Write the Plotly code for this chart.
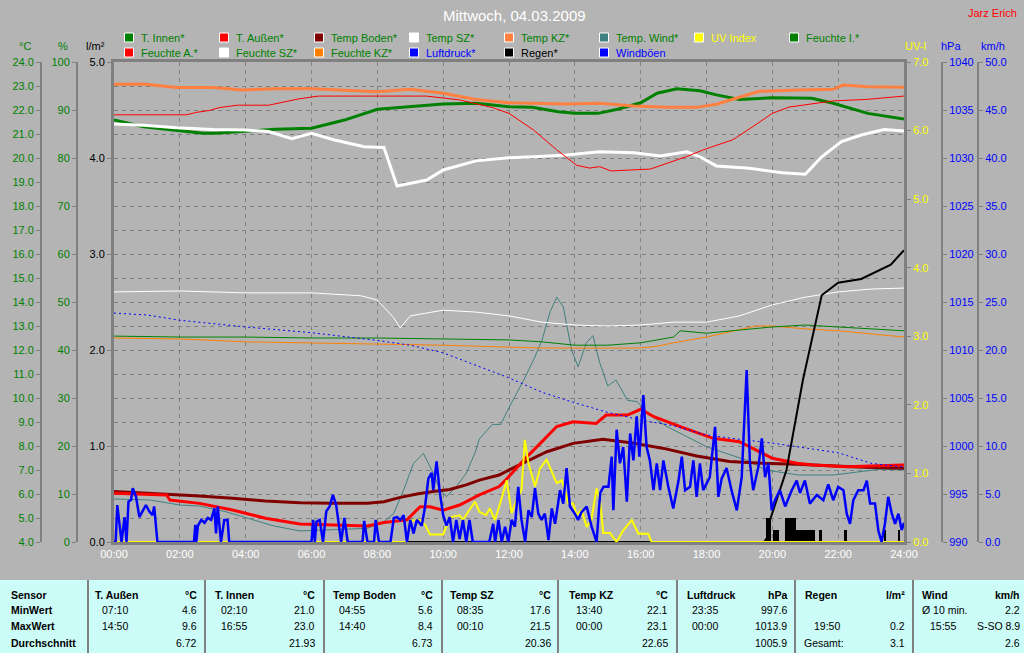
import plotly.graph_objects as go

# ---------------- data (hours since midnight, values in axis units) ----------------
T_INNEN_H = [0, 0.9, 2.0, 2.7, 3.1, 4.0, 4.9, 6.0, 7.0, 8.0, 9.0, 10.0, 11.0, 12.0, 12.7, 13.5, 14.0, 14.7, 15.3, 16.0, 16.5, 17.1, 17.8, 18.3, 19.0, 20.0, 21.2, 21.85, 22.9, 24.0]
T_INNEN = [21.58, 21.30, 21.14, 21.03, 21.03, 21.10, 21.20, 21.24, 21.58, 22.03, 22.14, 22.25, 22.28, 22.14, 22.11, 21.93, 21.86, 21.86, 22.03, 22.30, 22.70, 22.88, 22.80, 22.63, 22.44, 22.51, 22.49, 22.28, 21.86, 21.62]

TEMP_KZ_H = [0, 0.9, 1.9, 3.0, 3.9, 4.9, 6.0, 7.0, 8.0, 9.0, 10.0, 11.0, 12.0, 12.7, 13.75, 14.75, 15.8, 16.8, 17.7, 18.3, 19.0, 19.6, 20.8, 21.85, 22.15, 22.9, 24.0]
TEMP_KZ = [23.07, 23.08, 22.94, 22.94, 22.83, 22.89, 22.89, 22.83, 22.76, 22.86, 22.70, 22.44, 22.30, 22.28, 22.25, 22.28, 22.17, 22.11, 22.11, 22.24, 22.53, 22.78, 22.83, 22.86, 23.04, 22.97, 22.95]

TEMP_SZ_H = [0, 0.9, 1.9, 3.0, 4.0, 4.7, 5.4, 6.0, 6.7, 7.6, 8.2, 8.6, 9.5, 10.0, 11.0, 12.0, 12.75, 13.75, 14.75, 15.8, 16.6, 17.4, 17.8, 18.3, 19.3, 20.3, 21.0, 21.5, 22.1, 22.7, 23.4, 24.0]
TEMP_SZ = [21.42, 21.36, 21.26, 21.19, 21.17, 21.10, 20.80, 21.03, 20.75, 20.47, 20.44, 18.83, 19.08, 19.50, 19.88, 20.01, 20.05, 20.13, 20.26, 20.22, 20.08, 20.26, 20.05, 19.67, 19.57, 19.39, 19.32, 20.05, 20.68, 20.96, 21.19, 21.12]

T_AUSSEN_H = [0, 1.6, 1.7, 2.6, 3.6, 4.6, 5.65, 6.65, 7.7, 8.2, 8.9, 9.3, 9.6, 10.0, 10.5, 11.1, 11.7, 11.9, 12.45, 12.95, 13.45, 13.95, 14.65, 14.95, 15.6, 16.0, 16.4, 17.2, 18.2, 19.0, 19.5, 20.0, 20.75, 21.25, 22.25, 23.25, 24.0]
T_AUSSEN = [6.03, 5.96, 5.75, 5.61, 5.33, 4.99, 4.75, 4.71, 4.67, 4.81, 4.92, 5.47, 5.47, 5.33, 5.54, 5.96, 6.31, 6.58, 7.42, 8.11, 8.81, 9.01, 8.94, 9.29, 9.29, 9.53, 9.22, 8.81, 8.32, 8.18, 7.83, 7.49, 7.28, 7.21, 7.14, 7.17, 7.21]

BODEN_H = [0, 1.6, 2.6, 3.6, 4.6, 5.65, 6.65, 7.7, 8.2, 8.7, 9.2, 9.7, 10.2, 10.7, 11.1, 11.7, 12.1, 13.15, 13.95, 14.85, 15.7, 16.7, 17.7, 18.7, 19.7, 20.75, 21.75, 22.75, 24.0]
BODEN = [6.10, 6.00, 5.92, 5.82, 5.71, 5.64, 5.61, 5.61, 5.68, 5.86, 6.00, 6.10, 6.19, 6.38, 6.58, 6.79, 7.07, 7.76, 8.11, 8.28, 8.14, 7.90, 7.58, 7.35, 7.28, 7.24, 7.17, 7.11, 7.07]

WIND_T_H = [0, 1.1, 2.0, 2.6, 3.4, 4.1, 4.85, 5.65, 6.65, 7.7, 8.2, 8.5, 8.8, 9.1, 9.4, 9.7, 9.9, 10.1, 10.4, 10.7, 11.0, 11.1, 11.5, 11.75, 12.0, 12.45, 12.75, 13.0, 13.25, 13.45, 13.65, 13.9, 14.1, 14.35, 14.55, 14.75, 15.0, 15.25, 15.6, 15.9, 16.2, 16.8, 17.4, 18.0, 18.6, 19.2, 19.8, 20.8, 21.85, 22.25, 23.25, 24.0]
WIND_T = [5.79, 5.75, 5.54, 5.50, 5.26, 4.99, 4.67, 4.46, 4.50, 4.57, 4.85, 5.19, 6.17, 7.28, 7.69, 6.86, 6.17, 5.89, 6.31, 6.86, 7.83, 8.30, 8.90, 8.90, 9.60, 10.75, 11.6, 12.4, 13.6, 14.2, 13.8, 12.0, 11.3, 12.3, 12.6, 11.5, 10.5, 10.75, 9.90, 9.85, 9.36, 8.81, 8.39, 7.97, 7.69, 7.42, 7.00, 6.79, 6.79, 6.86, 7.03, 7.00]

FEUCHTE_A_H = [0, 2.2, 2.5, 2.9, 3.2, 3.75, 4.7, 5.2, 5.6, 6.2, 9.5, 10.5, 11.5, 12.0, 12.75, 13.45, 14.05, 14.45, 14.75, 15.1, 15.8, 16.3, 16.8, 17.4, 17.9, 18.8, 19.4, 20.0, 20.5, 21.25, 21.85, 22.85, 24.0]
FEUCHTE_A = [89.0, 89.0, 89.5, 89.9, 90.5, 91.0, 91.0, 91.8, 92.3, 92.9, 92.9, 92.1, 90.5, 89.3, 85.8, 81.7, 78.5, 77.9, 78.2, 77.3, 77.5, 77.7, 78.9, 80.3, 81.7, 83.8, 86.5, 89.3, 90.6, 91.4, 91.9, 92.2, 92.9]

FEUCHTE_SZ_H = [0, 2, 4, 6, 7.5, 8.0, 8.5, 8.7, 9.0, 10, 11, 12, 13, 14, 15, 16, 17, 18, 19, 20, 21, 22, 23, 24]
FEUCHTE_SZ = [52.1, 52.3, 51.9, 51.9, 51.3, 50.4, 46.7, 44.6, 47.1, 48.3, 47.9, 47.1, 45.8, 45.2, 45.0, 45.2, 45.8, 45.8, 47.1, 49.4, 51.0, 52.1, 52.7, 52.9]

FEUCHTE_I_H = [0, 2, 4, 6, 8, 10, 12, 13, 14, 15, 16, 17, 17.2, 18, 19, 20, 21, 22, 23, 24]
FEUCHTE_I = [42.9, 42.7, 42.7, 42.5, 42.5, 42.3, 42.1, 41.7, 41.0, 41.0, 41.5, 42.7, 44.0, 43.5, 44.2, 44.8, 45.2, 44.8, 44.4, 44.0]

FEUCHTE_KZ_H = [0, 2, 4, 6, 8, 10, 12, 13, 14, 15, 16, 16.5, 17, 18, 19, 19.5, 20, 21, 22, 23, 24]
FEUCHTE_KZ = [42.5, 42.3, 41.7, 41.5, 41.3, 41.0, 40.6, 40.4, 40.4, 40.4, 40.4, 40.8, 41.5, 42.7, 44.2, 45.0, 45.0, 44.4, 44.0, 43.3, 42.7]

LUFTDRUCK_H = [0, 1, 2, 4, 6, 8, 9, 10, 11, 12, 13, 14, 15, 16, 17, 18, 19, 20, 21, 22, 23, 24]
LUFTDRUCK = [1013.85, 1013.65, 1013.1, 1012.4, 1011.8, 1011.0, 1010.5, 1009.7, 1008.4, 1007.1, 1005.6, 1004.5, 1003.5, 1002.7, 1002.1, 1001.15, 1000.7, 1000.3, 999.8, 999.3, 998.2, 997.8]

REGEN_H = [0, 19.75, 19.85, 19.93, 20.43, 20.93, 21.5, 22.0, 22.7, 23.2, 23.6, 24.0]
REGEN = [0, 0, 0.05, 0.23, 0.75, 1.69, 2.57, 2.70, 2.74, 2.82, 2.89, 3.04]

RAIN_BAR_H = [19.85, 19.93, 20.06, 20.15, 20.42, 20.5, 20.58, 20.67, 20.75, 20.83, 20.92, 21.0, 21.08, 21.17, 21.25, 21.46, 22.23, 23.42, 23.85]
RAIN_BAR = [0.25, 0.25, 0.12, 0.12, 0.25, 0.25, 0.25, 0.25, 0.12, 0.12, 0.12, 0.12, 0.12, 0.12, 0.12, 0.12, 0.12, 0.12, 0.12]

UV_H = [0, 8.89, 8.99, 9.3, 9.45, 9.6, 10.0, 10.2, 10.5, 10.6, 10.8, 10.97, 11.1, 11.3, 11.42, 11.57, 11.73, 11.93, 12.08, 12.23, 12.38, 12.48, 12.59, 12.79, 12.94, 13.14, 13.45, 13.6, 13.7, 13.8, 13.95, 14.06, 14.2, 14.36, 14.5, 14.66, 14.78, 14.86, 15.07, 15.27, 15.47, 15.73, 15.93, 16.23, 16.33, 24.0]
UV = [0, 0, 0.31, 0.32, 0.25, 0.11, 0.11, 0.36, 0.39, 0.32, 0.47, 0.59, 0.44, 0.39, 0.49, 0.32, 0.56, 0.90, 0.42, 0.61, 0.76, 1.49, 1.15, 0.81, 1.07, 1.20, 0.86, 0.90, 0.76, 0.56, 0.56, 0.39, 0.47, 0.22, 0.32, 0.78, 0.56, 0.13, 0.13, 0.0, 0.17, 0.32, 0.12, 0.12, 0.0, 0.0]

BOEEN_H = [0.0, 0.05, 0.1, 0.15, 0.23, 0.32, 0.38, 0.44, 0.52, 0.57, 0.67, 0.77, 0.87, 0.97, 1.07, 1.17, 1.22, 1.32,
           2.43, 2.47, 2.5, 2.55, 2.65, 2.75, 2.85, 2.95, 3.05, 3.1, 3.15, 3.25, 3.35, 3.45, 3.5,
           6.0, 6.05, 6.1, 6.15, 6.25, 6.35, 6.45, 6.55, 6.65, 6.75, 6.85, 6.9, 7.0, 7.1, 7.55, 7.6, 7.7, 7.9, 7.95, 8.05,
           8.4, 8.5, 8.6, 8.7, 8.8, 8.9, 9.0, 9.1, 9.2, 9.35, 9.45, 9.55, 9.65, 9.7, 9.8, 9.9, 10.0, 10.1, 10.2, 10.3,
           10.4, 10.5, 10.6, 10.7, 10.8, 10.9, 11.4, 11.52, 11.58, 11.68, 11.78, 11.88, 11.98, 12.08, 12.18, 12.28, 12.38,
           12.49, 12.59, 12.69, 12.79, 12.89, 12.99, 13.09, 13.2, 13.3, 13.4, 13.55, 13.65, 13.75, 13.85, 14.0, 14.1,
           14.2, 14.36, 14.51, 14.66, 14.77, 14.87, 15.02, 15.12, 15.17, 15.27, 15.37, 15.47, 15.58, 15.68, 15.78, 15.88,
           15.96, 16.08, 16.18, 16.28, 16.39, 16.49, 16.59, 16.69, 16.84, 16.99, 17.15, 17.25, 17.35, 17.5, 17.6, 17.7,
           17.8, 17.9, 18.1, 18.26, 18.36, 18.46, 18.61, 18.76, 18.92, 19.07, 19.17, 19.22, 19.32, 19.42, 19.58, 19.68,
           19.78, 19.88, 19.98, 20.08, 20.23, 20.39, 20.59, 20.74, 20.84, 20.99, 21.14, 21.35, 21.55, 21.7, 21.85, 22.0,
           22.16, 22.26, 22.36, 22.46, 22.61, 22.77, 22.87, 22.97, 23.12, 23.22, 23.32, 23.42, 23.52, 23.63, 23.73,
           23.83, 23.93, 24.0]
BOEEN = [0, 0, 3.85, 2.5, 0, 2.6, 0, 4.2, 4.4, 5.6, 4.7, 2.6, 3.3, 3.85, 3.2, 2.8, 3.7, 0,
         0, 1.8, 0, 1.7, 2.3, 2.0, 2.5, 2.3, 3.5, 0.9, 3.7, 0, 2.3, 2.3, 0,
         0, 2.3, 0, 2.1, 2.3, 0, 3.2, 3.7, 4.9, 3.85, 1.25, 0, 2.5, 0, 0, 2.2, 0, 0, 2.3, 0,
         0, 2.5, 2.6, 2.3, 2.8, 0, 2.3, 0.9, 2.3, 1.7, 3.7, 6.6, 7.2, 5.4, 8.4, 5.1, 2.8, 1.7, 2.6, 0,
         2.3, 0.3, 2.3, 0, 2.3, 0, 0, 1.9, 0, 2.3, 0, 1.6, 0, 2.3, 1.6, 5.75, 2.3,
         0, 3.3, 2.6, 5.6, 2.95, 2.3, 2.95, 0.2, 3.5, 1.9, 5.4, 4.0, 7.7, 3.7, 2.95, 2.3,
         3.1, 3.7, 1.6, 0, 5.1, 5.75, 5.75, 8.9, 3.3, 11.7, 8.2, 9.9, 4.2, 11.3, 8.5, 13.1,
         8.9, 15.3, 9.9, 8.5, 5.4, 8.2, 5.4, 8.5, 5.75, 3.5, 6.4, 8.9, 5.4, 5.75, 8.5, 4.7,
         8.2, 5.4, 6.75, 12.0, 4.7, 6.6, 7.7, 5.4, 3.3, 6.75, 13.4, 17.9, 8.2, 5.4, 7.9, 10.8,
         6.75, 8.2, 3.3, 4.35, 5.4, 3.7, 5.4, 6.4, 5.1, 6.4, 4.0, 4.9, 4.35, 6.0, 4.35, 5.75,
         5.4, 2.95, 1.9, 4.35, 5.4, 5.4, 6.4, 4.0, 4.0, 1.2, 0, 1.9, 4.7, 2.95, 1.9,
         2.95, 1.25, 2.0]

HOUR_TICKS = list(range(0, 25, 2))
HOUR_LABELS = ["%02d:00" % h for h in HOUR_TICKS]

LEGEND_LABELS = ["T. Innen*", "T. Außen*", "Temp Boden*", "Temp SZ*", "Temp KZ*", "Temp. Wind*", "UV Index", "Feuchte I.*",
                 "Feuchte A.*", "Feuchte SZ*", "Feuchte KZ*", "Luftdruck*", "Regen*", "Windböen"]
LEGEND_SWATCH = ["#008000", "#ff0000", "#800000", "#ffffff", "#ff8040", "#408080", "#ffff00", "#008000",
                 "#ff0000", "#ffffff", "#ff8000", "#0000ff", "#000000", "#0000ff"]
LEGEND_TEXT = ["#008000", "#008000", "#008000", "#008000", "#008000", "#008000", "#ffff00", "#008000",
               "#008000", "#008000", "#008000", "#0000ff", "#000000", "#0000ff"]

ROW_TITLES = ["Sensor", "MinWert", "MaxWert", "Durchschnitt"]
TABLE_SENSORS = ["T. Außen", "T. Innen", "Temp Boden", "Temp SZ", "Temp KZ", "Luftdruck", "Regen", "Wind"]
TABLE_UNITS = ["°C", "°C", "°C", "°C", "°C", "hPa", "l/m²", "km/h"]
MIN_LABEL = ["07:10", "02:10", "04:55", "08:35", "13:40", "23:35", "", "Ø 10 min."]
MIN_VALUE = ["4.6", "21.0", "5.6", "17.6", "22.1", "997.6", "", "2.2"]
MAX_LABEL = ["14:50", "16:55", "14:40", "00:10", "00:00", "00:00", "19:50", "15:55"]
MAX_VALUE = ["9.6", "23.0", "8.4", "21.5", "23.1", "1013.9", "0.2", "S-SO 8.9"]
AVG_LABEL = ["", "", "", "", "", "", "Gesamt:", ""]
AVG_VALUE = ["6.72", "21.93", "6.73", "20.36", "22.65", "1005.9", "3.1", "2.6"]

# ---------------- layout constants ----------------
W, H = 1024, 653
PL, PR, PT, PB = 114, 904, 62, 542
FONT = "Liberation Sans, Arial, sans-serif"
BG = "#b4b4b4"
GRID = "#808080"
GREEN, BLUE, YELLOW = "#008000", "#0000ff", "#ffff00"


def px(x):
    return x / W


def py(y):
    return 1 - y / H


fig = go.Figure()


def line(xs, ys, color, width, axis, dash=None):
    fig.add_trace(go.Scatter(x=xs, y=ys, mode="lines", yaxis=axis, hoverinfo="skip", showlegend=False,
                             line=dict(color=color, width=width, dash=dash)))


# temperatures (°C)
line(WIND_T_H, WIND_T, "#408080", 1, "y")
line(BODEN_H, BODEN, "#800000", 3, "y")
line(T_AUSSEN_H, T_AUSSEN, "#ff0000", 3, "y")
line(T_INNEN_H, T_INNEN, "#008000", 3, "y")
line(TEMP_SZ_H, TEMP_SZ, "#ffffff", 3, "y")
line(TEMP_KZ_H, TEMP_KZ, "#ff8040", 3, "y")
# humidity (%)
line(FEUCHTE_A_H, FEUCHTE_A, "#ff0000", 1, "y2")
line(FEUCHTE_SZ_H, FEUCHTE_SZ, "#ffffff", 1, "y2")
line(FEUCHTE_KZ_H, FEUCHTE_KZ, "#ff8000", 1, "y2")
line(FEUCHTE_I_H, FEUCHTE_I, "#008000", 1, "y2")
# rain (l/m²)
fig.add_trace(go.Bar(x=RAIN_BAR_H, y=RAIN_BAR, width=0.083, yaxis="y3", marker=dict(color="#000000", line=dict(width=0)),
                     hoverinfo="skip", showlegend=False))
line(REGEN_H, REGEN, "#000000", 2, "y3")
# UV
line(UV_H, UV, YELLOW, 2, "y4")
# pressure
line(LUFTDRUCK_H, LUFTDRUCK, BLUE, 1, "y5", dash="2px,3px")
# gusts
line(BOEEN_H, BOEEN, BLUE, 2.5, "y6")

dom = [py(PB), py(PT)]
common = dict(domain=dom, showgrid=False, zeroline=False, ticks="outside", ticklen=4, tickcolor=GRID,
              showline=True, linecolor=GRID, linewidth=2, automargin=False)

fig.update_layout(
    width=W, height=H, margin=dict(l=0, r=0, t=0, b=0, pad=0, autoexpand=False), autosize=False,
    paper_bgcolor=BG, plot_bgcolor=BG, bargap=0, showlegend=False,
    font=dict(family=FONT, size=11),
    xaxis=dict(domain=[px(PL), px(PR)], range=[0, 24], tickvals=HOUR_TICKS, ticktext=HOUR_LABELS,
               showgrid=True, gridcolor=GRID, griddash="4px,4px", gridwidth=1, zeroline=False, automargin=False,
               showline=True, mirror=True, linecolor=GRID, linewidth=3, ticks="", layer="below traces",
               tickfont=dict(color="#ffffff", size=11, family=FONT), anchor="y"),
    yaxis=dict(common, anchor="free", position=px(41), side="left", range=[4, 24], tick0=4, dtick=1,
               tickformat=".1f", tickfont=dict(color=GREEN, size=11, family=FONT),
               showgrid=True, gridcolor=GRID, griddash="4px,4px", gridwidth=1),
    yaxis2=dict(common, anchor="free", position=px(77), side="left", overlaying="y", range=[0, 100], dtick=10,
                tickformat="d", tickfont=dict(color=GREEN, size=11, family=FONT)),
    yaxis3=dict(common, anchor="x", side="left", overlaying="y", range=[0, 5], dtick=1, tickformat=".1f",
                linewidth=3, tickfont=dict(color="#000000", size=11, family=FONT)),
    yaxis4=dict(common, anchor="x", side="right", overlaying="y", range=[0, 7], dtick=1, tickformat=".1f",
                linewidth=3, tickfont=dict(color=YELLOW, size=11, family=FONT)),
    yaxis5=dict(common, anchor="free", position=px(942), side="right", overlaying="y", range=[990, 1040], dtick=5,
                tick0=990, tickformat="d", tickfont=dict(color=BLUE, size=11, family=FONT)),
    yaxis6=dict(common, anchor="free", position=px(978), side="right", overlaying="y", range=[0, 50], dtick=5,
                tickformat=".1f", tickfont=dict(color=BLUE, size=11, family=FONT)),
)

ann = []
shapes = []


def text(x, y, s, color="#000000", size=11, anchor="left", bold=False):
    ann.append(dict(x=px(x), y=py(y), xref="paper", yref="paper", text=("<b>%s</b>" % s) if bold else s,
                    showarrow=False, xanchor=anchor, yanchor="middle",
                    font=dict(family=FONT, size=size, color=color)))


# title and author
text(514, 15, "Mittwoch, 04.03.2009", "#ffffff", 15, "center")
text(992, 13, "Jarz Erich", "#ff0000", 11, "center")

# axis titles
text(25, 46, "°C", GREEN, 11, "center")
text(63, 46, "%", GREEN, 11, "center")
text(95, 46, "l/m²", "#000000", 11, "center")
text(915, 46, "UV-I", YELLOW, 11, "center")
text(951, 46, "hPa", BLUE, 11, "center")
text(993, 46, "km/h", BLUE, 11, "center")

# legend
for i, lab in enumerate(LEGEND_LABELS):
    row, col = divmod(i, 8)
    sx = 124.5 + 95 * col
    sy = 37.5 + 15 * row
    shapes.append(dict(type="rect", xref="paper", yref="paper", x0=px(sx), x1=px(sx + 9), y0=py(sy - 4.5),
                       y1=py(sy + 4.5), fillcolor=LEGEND_SWATCH[i], line=dict(color="#ffffff", width=1)))
    text(sx + 14, sy, lab, LEGEND_TEXT[i], 11)

# table
TOP = 580
COL_X = [88, 205, 324, 442, 558, 677, 795, 913, 1024]
NAME_X = [93, 213, 331, 448, 567, 685, 803, 920]
TIME_X = [100, 219, 337, 455, 574, 690, 812, 928]
RIGHT_X = [199, 317, 435, 553, 670, 789, 907, 1022]
ROW_Y = [595, 610, 626, 643]
shapes.append(dict(type="rect", xref="paper", yref="paper", x0=0, x1=1, y0=0, y1=py(TOP),
                   fillcolor="#ccfcf8", line=dict(width=0), layer="below"))
for cx in COL_X[:-1]:
    shapes.append(dict(type="line", xref="paper", yref="paper", x0=px(cx), x1=px(cx), y0=0, y1=py(TOP),
                       line=dict(color="#808080", width=2)))
for r, t in enumerate(ROW_TITLES):
    text(9, ROW_Y[r], t, "#000000", 10.5, bold=True)
for c in range(8):
    text(NAME_X[c], ROW_Y[0], TABLE_SENSORS[c], "#000000", 10.5, bold=True)
    text(RIGHT_X[c], ROW_Y[0], TABLE_UNITS[c], "#000000", 10.5, "right", bold=True)
    for r, (lab, val) in enumerate([(MIN_LABEL[c], MIN_VALUE[c]), (MAX_LABEL[c], MAX_VALUE[c]),
                                    (AVG_LABEL[c], AVG_VALUE[c])], start=1):
        if lab:
            lx = COL_X[c] + 7 if lab in ("Gesamt:", "Ø 10 min.") else TIME_X[c]
            text(lx, ROW_Y[r], lab, "#000000", 10.5)
        if val:
            text(RIGHT_X[c], ROW_Y[r], val, "#000000", 10.5, "right")

fig.update_layout(annotations=ann, shapes=shapes)
fig.write_html("out.html", config={"displayModeBar": False},
               post_script="document.body.style.margin='0px';document.body.style.overflow='hidden';")
